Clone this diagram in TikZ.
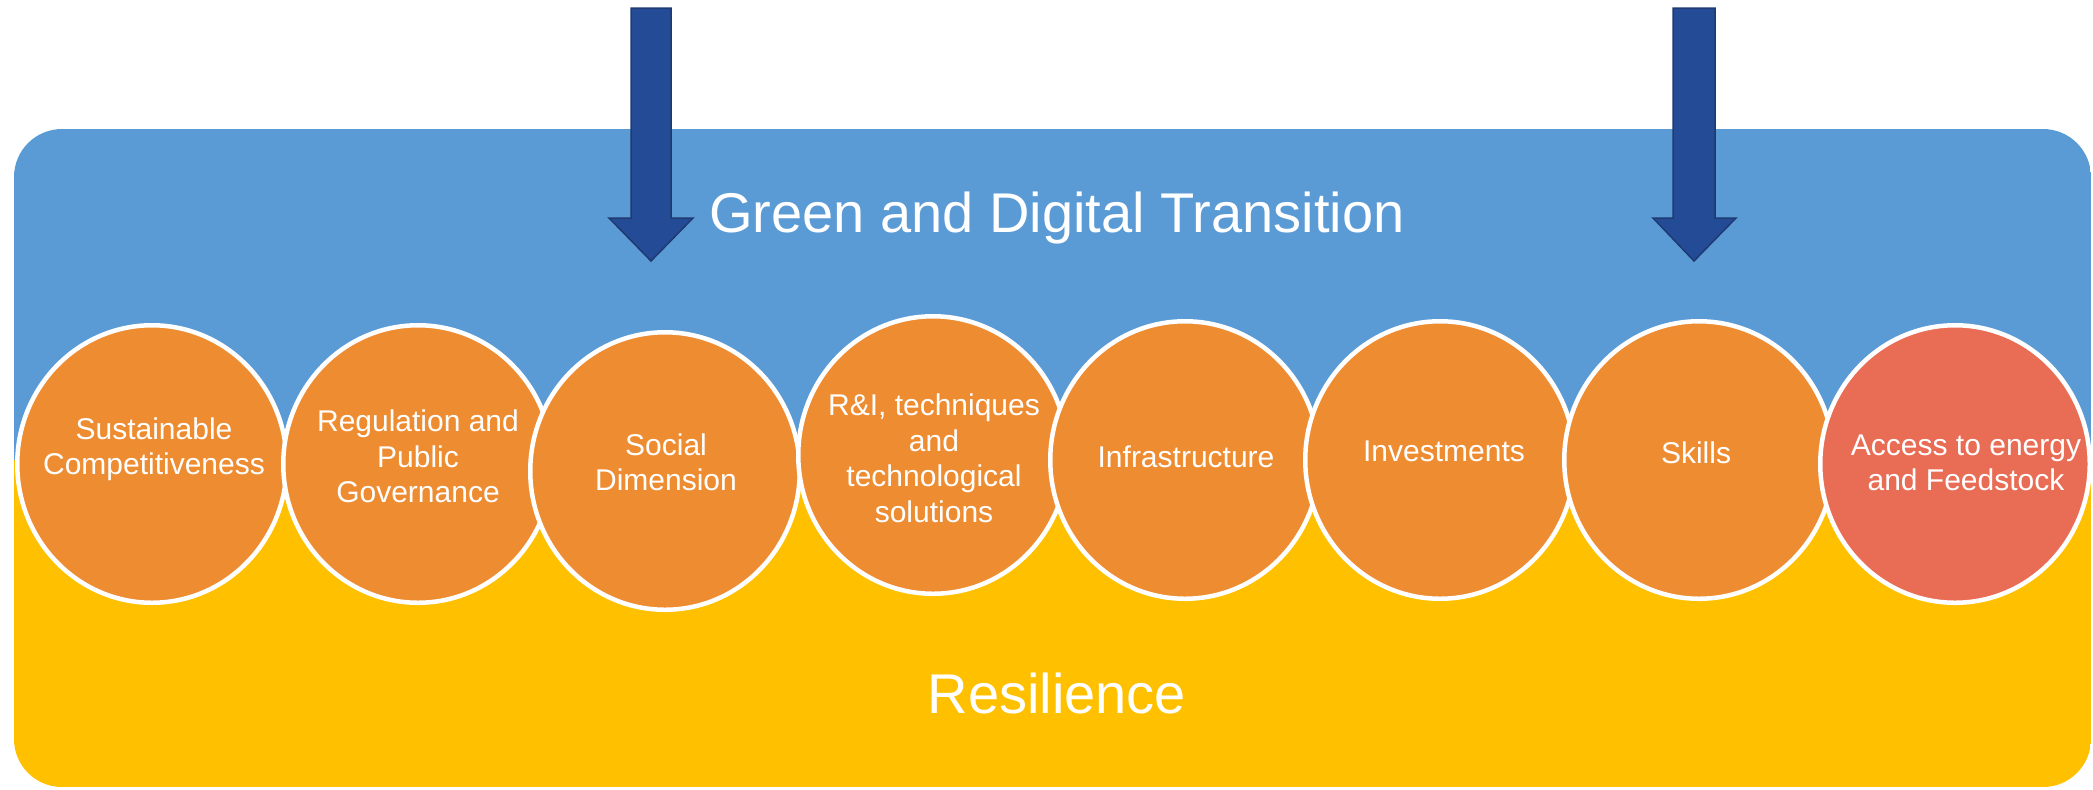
\documentclass[tikz,border=0pt]{standalone}
\usepackage{fontspec}
\setmainfont{Liberation Sans}
\usetikzlibrary{shapes.geometric}

\definecolor{bandblue}{HTML}{5B9BD5}
\definecolor{bandyellow}{HTML}{FFC000}
\definecolor{pillarorange}{HTML}{EE8C32}
\definecolor{pillarred}{HTML}{E96C55}
\definecolor{arrowblue}{HTML}{244B96}
\definecolor{arrowedge}{HTML}{1F3A70}

\begin{document}
\begin{tikzpicture}[x=0.5pt,y=-0.5pt,
  pillar/.style={ellipse, draw=white, line width=2.25pt, fill=pillarorange,
    minimum width=134.75pt, minimum height=138.75pt, inner sep=0pt},
  pillartext/.style={text=white, font=\fontsize{15}{17.75}\selectfont,
    align=center, inner sep=0pt, anchor=center},
  bandtext/.style={text=white, font=\fontsize{28}{33}\selectfont,
    inner sep=0pt, anchor=base},
  downarrow/.style={fill=arrowblue, draw=arrowedge, line width=0.75pt,
    line join=miter}]

\useasboundingbox (0,0) rectangle (2093,789);

% two-coloured rounded panel
\begin{scope}
  \clip[rounded corners=24pt] (14,129) rectangle (2091,787);
  \fill[bandblue] (14,129) rectangle (2091,460);
  \fill[bandyellow] (14,460) rectangle (2091,787);
\end{scope}

% panel captions
\node[bandtext] (title) at (1057,232) {Green and Digital Transition};
\node[bandtext] (res) at (1057,713) {Resilience};

% downward block arrows
\draw[downarrow] (631,8) -- (671,8) -- (671,218) -- (693,218) -- (651,261)
  -- (609,218) -- (631,218) -- cycle;
\draw[downarrow] (1673,8) -- (1715,8) -- (1715,218) -- (1736,218) -- (1694,261)
  -- (1653,218) -- (1673,218) -- cycle;

% pillars, each one drawn over its left neighbour
\node[pillar] (c1) at (152,464) {};
\node[pillar] (c2) at (418,464) {};
\node[pillar] (c3) at (665,471) {};
\node[pillar] (c4) at (933,455) {};
\node[pillar] (c5) at (1185,460) {};
\node[pillar] (c6) at (1440,460) {};
\node[pillar] (c7) at (1699,460) {};
\node[pillar, fill=pillarred] (c8) at (1955,464) {};

% pillar labels
\node[pillartext] (l1) at (154,450) {\strut Sustainable\\\strut Competitiveness};
\node[pillartext] (l2) at (418,460) {\strut Regulation and\\\strut Public\\\strut Governance};
\node[pillartext] (l3) at (666,466) {\strut Social\\\strut Dimension};
\node[pillartext] (l4) at (934,462) {\strut R\&I, techniques\\\strut and\\\strut technological\\\strut solutions};
\node[pillartext] (l5) at (1186,460) {\strut Infrastructure};
\node[pillartext] (l6) at (1444,454) {\strut Investments};
\node[pillartext] (l7) at (1696,456) {\strut Skills};
\node[pillartext] (l8) at (1966,466) {\strut Access to energy\\\strut and Feedstock};

\end{tikzpicture}
\end{document}
